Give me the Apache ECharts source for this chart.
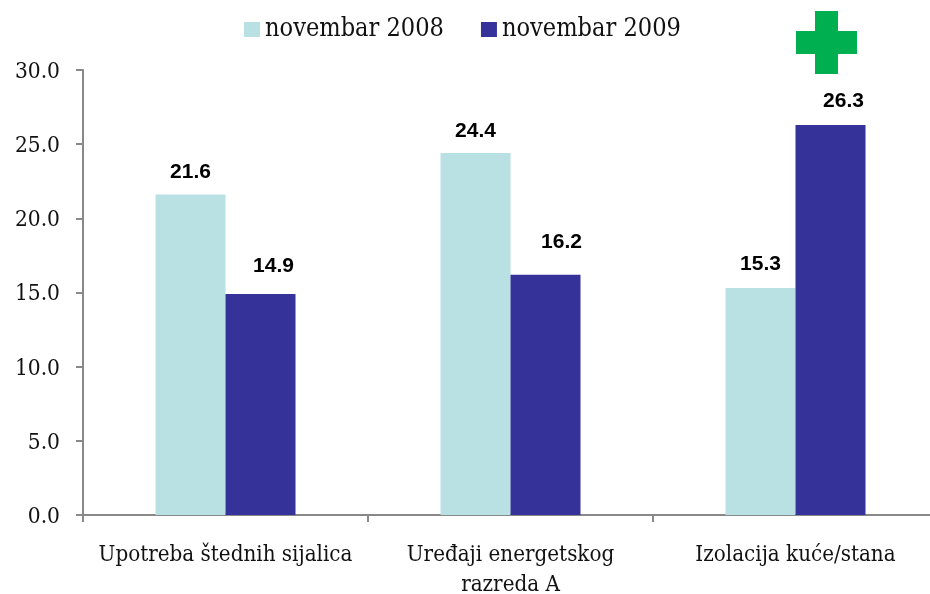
<!DOCTYPE html>
<html><head><meta charset="utf-8">
<style>html,body{margin:0;padding:0;background:#fff}#c{width:930px;height:594px}</style>
<script src="https://cdn.jsdelivr.net/npm/echarts@6/dist/echarts.min.js"></script>
</head><body><div id="c"></div>
<script>
const categories = ['Upotreba štednih sijalica', 'Uređaji energetskog\nrazreda A', 'Izolacija kuće/stana'];
const series2008 = [21.6, 24.4, 15.3];
const series2009 = [14.9, 16.2, 26.3];
const seriesNames = ['novembar 2008', 'novembar 2009'];
const gaps2008 = [12, 11, 13];
const gaps2009 = [17, 22, 13];
const shifts2008 = [0, 0, 0];
const shifts2009 = [13, 16, 13];
const serif = '"DejaVu Serif Condensed","DejaVu Serif"';
const labelStyle = {show:true, position:'top', formatter:p=>p.value.toFixed(1),
  fontFamily:'"Liberation Sans"', fontWeight:'bold', fontSize:21, color:'#000'};
const build = (vals, gaps, shifts) => vals.map((v,i)=>({value:v, label:{distance:gaps[i], offset:[shifts[i],0]}}));
const chart = echarts.init(document.getElementById('c'), null, {renderer:'canvas'});
chart.setOption({
  animation:false,
  backgroundColor:'#fff',
  legend:{top:12, left:239, itemWidth:16, itemHeight:15, itemGap:37,
    icon:'rect', textStyle:{fontFamily:serif, fontSize:25.1, color:'#111', padding:[0,0,0,0]},
    data:seriesNames},
  grid:{left:83, top:70, width:855, height:445, outerBoundsMode:'none'},
  xAxis:{type:'category', data:categories,
    axisLine:{lineStyle:{color:'#898989', width:2}},
    axisTick:{show:true, length:7, lineStyle:{color:'#898989', width:2}},
    axisLabel:{fontFamily:serif, fontSize:22.2, color:'#111', margin:25, lineHeight:30, interval:0}},
  yAxis:{type:'value', min:0, max:30, interval:5,
    axisLine:{show:true, lineStyle:{color:'#898989', width:2}},
    axisTick:{show:true, length:7, lineStyle:{color:'#898989', width:2}},
    splitLine:{show:false},
    axisLabel:{fontFamily:serif, fontSize:22.5, color:'#111', margin:23, verticalAlign:'top', lineHeight:4, formatter:v=>v.toFixed(1)}},
  series:[
    {name:seriesNames[0], type:'bar', data:build(series2008,gaps2008,shifts2008), barWidth:70, barGap:'0%',
     itemStyle:{color:'#b9e0e3'}, label:labelStyle},
    {name:seriesNames[1], type:'bar', data:build(series2009,gaps2009,shifts2009), barWidth:70,
     itemStyle:{color:'#35339a'}, label:labelStyle}
  ],
  graphic:[
    {type:'polygon', z:10, shape:{points:[[815,11],[838,11],[838,31],[857,31],[857,54],[838,54],[838,74],[815,74],[815,54],[796,54],[796,31],[815,31]]},
     style:{fill:'#00b050'}}
  ]
});
</script></body></html>
